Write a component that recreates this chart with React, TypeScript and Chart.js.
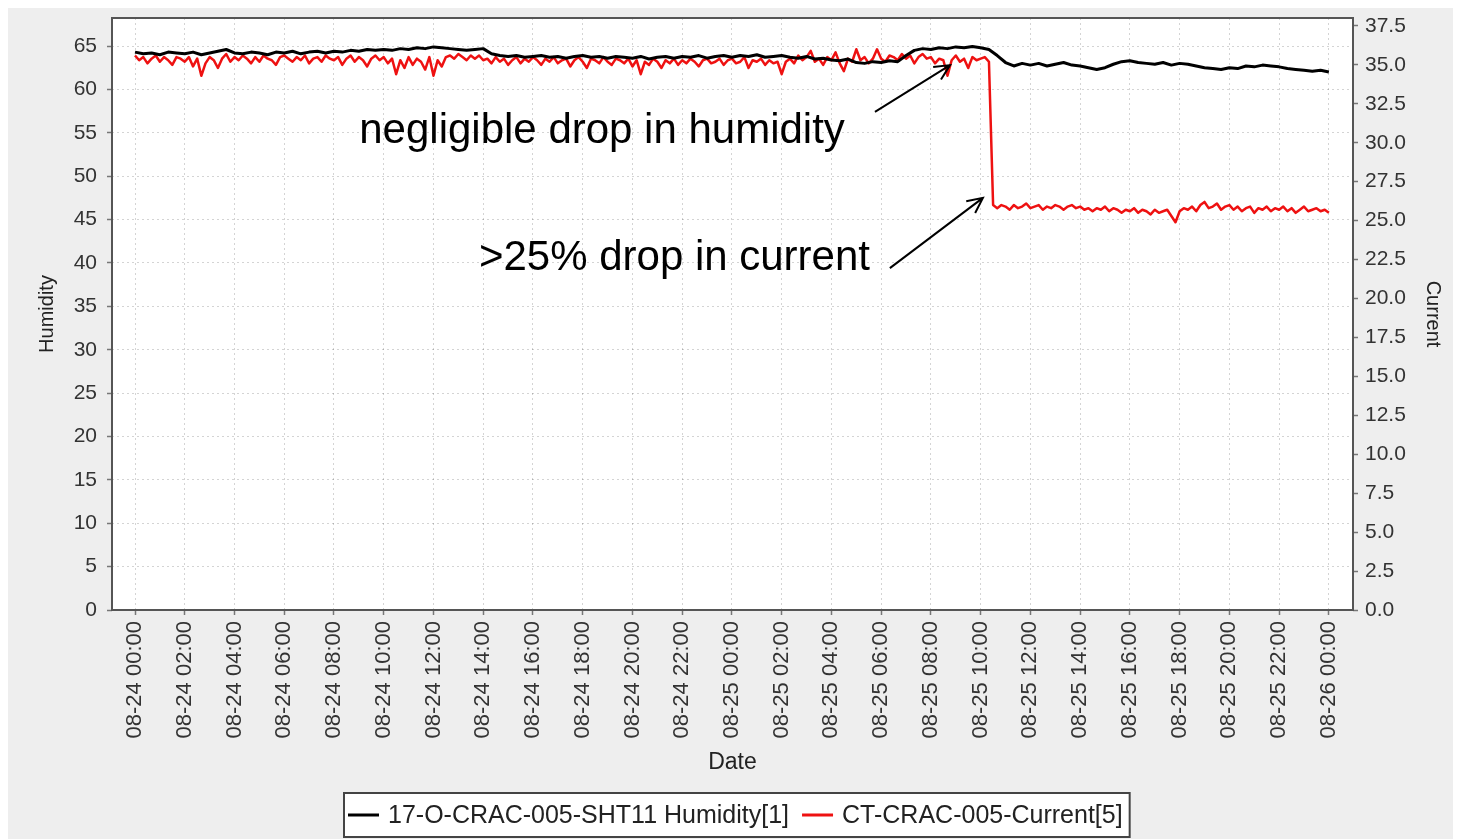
import React, { useEffect, useRef } from 'react';
import { Chart, registerables } from 'chart.js';

Chart.register(...registerables);

const FONT = "'Liberation Sans', Arial, Helvetica, sans-serif";
Chart.defaults.font.family = FONT;

const humidityLabel = '17-O-CRAC-005-SHT11 Humidity[1]';
const currentLabel = 'CT-CRAC-005-Current[5]';
const humidityAxisTitle = 'Humidity';
const currentAxisTitle = 'Current';
const dateAxisTitle = 'Date';

// sampling interval (minutes) from 08-24 00:00
const humidityStepMin = 20;
const currentStepMin = 10;

const humidity = [
  64.3, 64.1, 64.2, 64.0, 64.3, 64.2,
  64.1, 64.3, 64.0, 64.2, 64.4, 64.6,
  64.2, 64.1, 64.3, 64.2, 64.0, 64.3,
  64.2, 64.4, 64.1, 64.3, 64.4, 64.2,
  64.4, 64.3, 64.5, 64.4, 64.6, 64.5,
  64.6, 64.5, 64.7, 64.6, 64.8, 64.7,
  64.9, 64.8, 64.7, 64.6, 64.5, 64.6,
  64.7, 64.1, 63.9, 63.8, 63.9, 63.7,
  63.8, 63.9, 63.7, 63.8, 63.6, 63.8,
  63.9, 63.7, 63.8, 63.6, 63.8, 63.7,
  63.6, 63.8, 63.5, 63.7, 63.8, 63.6,
  63.8, 63.7, 63.9, 63.6, 63.8, 63.9,
  63.7, 63.9, 63.8, 64.0, 63.7, 63.8,
  63.9, 63.7, 63.6, 63.8, 63.5, 63.6,
  63.4, 63.3, 63.5, 63.1, 63.0, 63.2,
  63.1, 63.3, 63.2, 63.9, 64.5, 64.7,
  64.6, 64.8, 64.7, 64.9, 64.8, 64.95,
  64.8, 64.6, 63.9, 63.1, 62.7, 63.0,
  62.8, 63.0, 62.7, 62.9, 63.1, 62.8,
  62.7, 62.5, 62.3, 62.5, 62.9, 63.2,
  63.3, 63.1, 63.0, 62.9, 63.1, 62.8,
  63.0, 62.9, 62.7, 62.5, 62.4, 62.3,
  62.5, 62.4, 62.7, 62.6, 62.8, 62.7,
  62.6, 62.4, 62.3, 62.2, 62.1, 62.2,
  62.0,
];

const current = [
  35.6, 35.3, 35.5, 35.1, 35.4, 35.6, 35.2, 35.5, 35.3, 35.0, 35.5, 35.4,
  35.2, 35.5, 34.9, 35.4, 34.3, 35.1, 35.5, 35.3, 34.8, 35.4, 35.7, 35.2,
  35.5, 35.3, 35.6, 35.4, 35.1, 35.5, 35.2, 35.6, 35.4, 35.3, 35.0, 35.5,
  35.6, 35.4, 35.2, 35.5, 35.3, 35.6, 35.1, 35.4, 35.5, 35.2, 35.6, 35.4,
  35.3, 35.5, 35.0, 35.4, 35.6, 35.2, 35.5, 35.3, 34.9, 35.4, 35.6, 35.3,
  35.5, 35.1, 35.4, 34.4, 35.3, 34.8, 35.5, 35.0, 35.4, 35.2, 34.7, 35.5,
  34.3, 35.3, 34.9, 35.5, 35.6, 35.4, 35.7, 35.5, 35.3, 35.6, 35.4, 35.6,
  35.3, 35.4, 35.1, 35.5, 35.2, 35.4, 35.0, 35.3, 35.5, 35.1, 35.4, 35.2,
  35.5, 35.3, 35.0, 35.4, 35.2, 35.5, 35.1, 35.3, 35.4, 34.9, 35.3, 35.5,
  35.2, 34.8, 35.4, 35.3, 35.1, 35.5, 35.2, 35.0, 35.4, 35.3, 35.1, 35.4,
  34.9, 35.3, 34.4, 35.2, 35.0, 35.4, 35.2, 34.8, 35.3, 35.1, 35.4, 35.0,
  35.3, 35.1, 35.4, 35.2, 34.9, 35.3, 35.4, 35.1, 35.2, 35.4, 35.0, 35.3,
  35.4, 35.1, 35.2, 35.5, 34.8, 35.3, 35.2, 35.4, 35.0, 35.3, 35.1, 35.2,
  34.4, 35.2, 35.4, 35.1, 35.6, 35.3, 35.5, 35.9, 35.2, 35.4, 35.0, 35.5,
  35.3, 35.8, 35.1, 34.6, 35.4, 35.2, 36.0, 35.3, 35.5, 35.1, 35.4, 36.0,
  35.4, 35.2, 35.6, 35.5, 35.3, 35.7, 35.4, 35.6, 35.1, 35.5, 35.7, 35.4,
  35.5, 35.1, 35.4, 35.3, 34.3, 35.3, 35.6, 35.2, 35.4, 34.8, 35.5, 35.3,
  35.4, 35.5, 35.2, 26.0, 25.8, 26.0, 25.9, 25.7, 26.0, 25.8, 25.9, 26.1,
  25.8, 25.9, 26.0, 25.7, 25.9, 25.8, 26.0, 25.9, 25.7, 25.9, 26.0, 25.8,
  25.9, 25.7, 25.8, 25.6, 25.8, 25.7, 25.9, 25.6, 25.8, 25.7, 25.5, 25.7,
  25.6, 25.8, 25.5, 25.7, 25.6, 25.4, 25.7, 25.5, 25.6, 25.7, 25.3, 24.9,
  25.6, 25.8, 25.7, 25.9, 25.6, 26.0, 26.2, 25.8, 25.9, 26.1, 25.7, 25.9,
  26.0, 25.7, 25.9, 25.6, 25.8, 25.9, 25.5, 25.8, 25.7, 25.9, 25.6, 25.8,
  25.7, 25.9, 25.6, 25.8, 25.5, 25.7, 25.9, 25.6, 25.7, 25.8, 25.6, 25.7,
  25.5,
];

const xTickHours = [0, 2, 4, 6, 8, 10, 12, 14, 16, 18, 20, 22, 24, 26, 28, 30, 32, 34, 36, 38, 40, 42, 44, 46, 48];
const xTickLabels = [
  '08-24 00:00', '08-24 02:00', '08-24 04:00', '08-24 06:00', '08-24 08:00', '08-24 10:00',
  '08-24 12:00', '08-24 14:00', '08-24 16:00', '08-24 18:00', '08-24 20:00', '08-24 22:00',
  '08-25 00:00', '08-25 02:00', '08-25 04:00', '08-25 06:00', '08-25 08:00', '08-25 10:00',
  '08-25 12:00', '08-25 14:00', '08-25 16:00', '08-25 18:00', '08-25 20:00', '08-25 22:00',
  '08-26 00:00',
];
const humidityTicks = [0, 5, 10, 15, 20, 25, 30, 35, 40, 45, 50, 55, 60, 65];
const currentTicks = [0, 2.5, 5, 7.5, 10, 12.5, 15, 17.5, 20, 22.5, 25, 27.5, 30, 32.5, 35, 37.5];

const noteTexts = ['negligible drop in humidity', '>25% drop in current'];
// annotation anchors in data units (hours, humidity axis)
const noteTextHour = [28.54, 29.55];
const noteTextValue = [53.8, 39.2];
const arrowFromHour = [29.75, 30.35];
const arrowFromValue = [57.4, 39.4];
const arrowToHour = [32.77, 34.09];
const arrowToValue = [62.8, 47.5];

const bgPlugin = {
  id: 'bg',
  beforeDraw(chart: any) {
    const { ctx, chartArea, width, height } = chart;
    ctx.save();
    ctx.fillStyle = '#eeeeee';
    ctx.fillRect(0, 0, width, height);
    ctx.fillStyle = '#ffffff';
    ctx.fillRect(chartArea.left, chartArea.top, chartArea.right - chartArea.left, chartArea.bottom - chartArea.top);
    ctx.restore();
  },
};

function drawArrow(ctx: CanvasRenderingContext2D, x1: number, y1: number, x2: number, y2: number) {
  const ang = Math.atan2(y2 - y1, x2 - x1);
  const head = 17;
  const spread = 0.45;
  ctx.beginPath();
  ctx.moveTo(x1, y1);
  ctx.lineTo(x2, y2);
  ctx.moveTo(x2 - head * Math.cos(ang - spread), y2 - head * Math.sin(ang - spread));
  ctx.lineTo(x2, y2);
  ctx.lineTo(x2 - head * Math.cos(ang + spread), y2 - head * Math.sin(ang + spread));
  ctx.stroke();
}

const overlayPlugin = {
  id: 'overlay',
  afterDraw(chart: any) {
    const { ctx, chartArea, scales, height } = chart;
    const x = scales.x;
    const y = scales.y;
    ctx.save();
    // plot border
    ctx.strokeStyle = '#555555';
    ctx.lineWidth = 2;
    ctx.strokeRect(chartArea.left, chartArea.top, chartArea.right - chartArea.left, chartArea.bottom - chartArea.top);

    // annotations
    ctx.fillStyle = '#000000';
    ctx.strokeStyle = '#000000';
    ctx.lineWidth = 2;
    ctx.font = `42px ${FONT}`;
    ctx.textAlign = 'right';
    ctx.textBaseline = 'alphabetic';
    noteTexts.forEach((t, i) => {
      ctx.fillText(t, x.getPixelForValue(noteTextHour[i]), y.getPixelForValue(noteTextValue[i]));
      drawArrow(
        ctx,
        x.getPixelForValue(arrowFromHour[i]), y.getPixelForValue(arrowFromValue[i]),
        x.getPixelForValue(arrowToHour[i]), y.getPixelForValue(arrowToValue[i])
      );
    });

    // legend
    const items = chart.data.datasets.map((ds: any) => ({ text: ds.label, color: ds.borderColor }));
    ctx.font = `25px ${FONT}`;
    const padL = 4, lineW = 31, gapLT = 9, gapItems = 13, padR = 7;
    const widths = items.map((it: any) => ctx.measureText(it.text).width);
    let total = padL + padR;
    widths.forEach((w: number, i: number) => { total += lineW + gapLT + w + (i > 0 ? gapItems : 0); });
    const boxH = 44;
    const boxTop = height - 46;
    const boxLeft = Math.round((chartArea.left + chartArea.right) / 2 - total / 2 + 4);
    ctx.fillStyle = '#ffffff';
    ctx.fillRect(boxLeft, boxTop, total, boxH);
    ctx.strokeStyle = '#444444';
    ctx.lineWidth = 2;
    ctx.strokeRect(boxLeft, boxTop, total, boxH);
    let cx = boxLeft + padL;
    const cy = boxTop + boxH / 2;
    ctx.textAlign = 'left';
    ctx.textBaseline = 'middle';
    items.forEach((it: any, i: number) => {
      if (i > 0) cx += gapItems;
      ctx.strokeStyle = it.color;
      ctx.lineWidth = 3;
      ctx.beginPath();
      ctx.moveTo(cx, cy);
      ctx.lineTo(cx + lineW, cy);
      ctx.stroke();
      cx += lineW + gapLT;
      ctx.fillStyle = '#222222';
      ctx.fillText(it.text, cx, cy + 1);
      cx += widths[i];
    });
    ctx.restore();
  },
};

export default function App() {
  const ref = useRef<HTMLCanvasElement>(null);
  useEffect(() => {
    const canvas = ref.current;
    if (!canvas) return;
    const gridColor = 'rgba(0,0,0,0.17)';
    const tickColor = '#777777';
    const chart = new Chart(canvas, {
      type: 'line',
      data: {
        datasets: [
          {
            label: humidityLabel,
            data: humidity.map((v, i) => ({ x: (i * humidityStepMin) / 60, y: v })),
            yAxisID: 'y',
            borderColor: '#000000',
            backgroundColor: '#000000',
            borderWidth: 3,
            pointRadius: 0,
            tension: 0,
            borderJoinStyle: 'round',
          },
          {
            label: currentLabel,
            data: current.map((v, i) => ({ x: (i * currentStepMin) / 60, y: v })),
            yAxisID: 'y1',
            borderColor: '#ee1111',
            backgroundColor: '#ee1111',
            borderWidth: 2.5,
            pointRadius: 0,
            tension: 0,
            borderJoinStyle: 'round',
          },
        ],
      },
      options: {
        responsive: false,
        animation: false,
        events: [],
        layout: { padding: { top: 10, bottom: 56, left: 0, right: 0 } },
        plugins: { legend: { display: false }, tooltip: { enabled: false } },
        scales: {
          x: {
            type: 'linear',
            position: 'bottom',
            min: -0.925,
            max: 48.97,
            afterBuildTicks: (axis: any) => {
              axis.ticks = xTickHours.map((v) => ({ value: v }));
            },
            afterFit: (s: any) => {
              s.height = 173;
              s.paddingLeft = 0;
              s.paddingRight = 0;
            },
            ticks: {
              autoSkip: false,
              minRotation: 90,
              maxRotation: 90,
              padding: 6,
              color: '#333333',
              font: { size: 22 },
              callback: (_v: any, i: number) => xTickLabels[i],
            },
            grid: { color: gridColor, lineWidth: 1, tickLength: 5, tickColor, tickWidth: 1.5 },
            border: { display: false, dash: [2, 3] },
            title: {
              display: true,
              text: dateAxisTitle,
              color: '#222222',
              font: { size: 23 },
              padding: { top: 0, bottom: 7 },
            },
          },
          y: {
            type: 'linear',
            position: 'left',
            min: 0,
            max: 68.23,
            afterBuildTicks: (axis: any) => {
              axis.ticks = humidityTicks.map((v) => ({ value: v }));
            },
            afterFit: (s: any) => {
              s.width = 104;
              s.paddingTop = 0;
              s.paddingBottom = 0;
            },
            ticks: {
              padding: 10,
              color: '#333333',
              font: { size: 21 },
              callback: (v: any) => String(v),
            },
            grid: { color: gridColor, lineWidth: 1, tickLength: 5, tickColor, tickWidth: 1.5 },
            border: { display: false, dash: [2, 3] },
            title: {
              display: true,
              text: humidityAxisTitle,
              color: '#222222',
              font: { size: 20 },
              padding: { top: 27, bottom: 0 },
            },
          },
          y1: {
            type: 'linear',
            position: 'right',
            min: 0,
            max: 38.01,
            afterBuildTicks: (axis: any) => {
              axis.ticks = currentTicks.map((v) => ({ value: v }));
            },
            afterFit: (s: any) => {
              s.width = 100;
              s.paddingTop = 0;
              s.paddingBottom = 0;
            },
            ticks: {
              padding: 7,
              color: '#333333',
              font: { size: 21 },
              callback: (v: any) => Number(v).toFixed(1),
            },
            grid: { drawOnChartArea: false, tickLength: 5, tickColor, tickWidth: 1.5 },
            border: { display: false },
            title: {
              display: true,
              text: currentAxisTitle,
              color: '#222222',
              font: { size: 20 },
              padding: { top: 8, bottom: 0 },
            },
          },
        },
      } as any,
      plugins: [bgPlugin, overlayPlugin],
    });
    return () => chart.destroy();
  }, []);
  return <canvas ref={ref} width={1445} height={831} style={{ display: 'block' }} />;
}
